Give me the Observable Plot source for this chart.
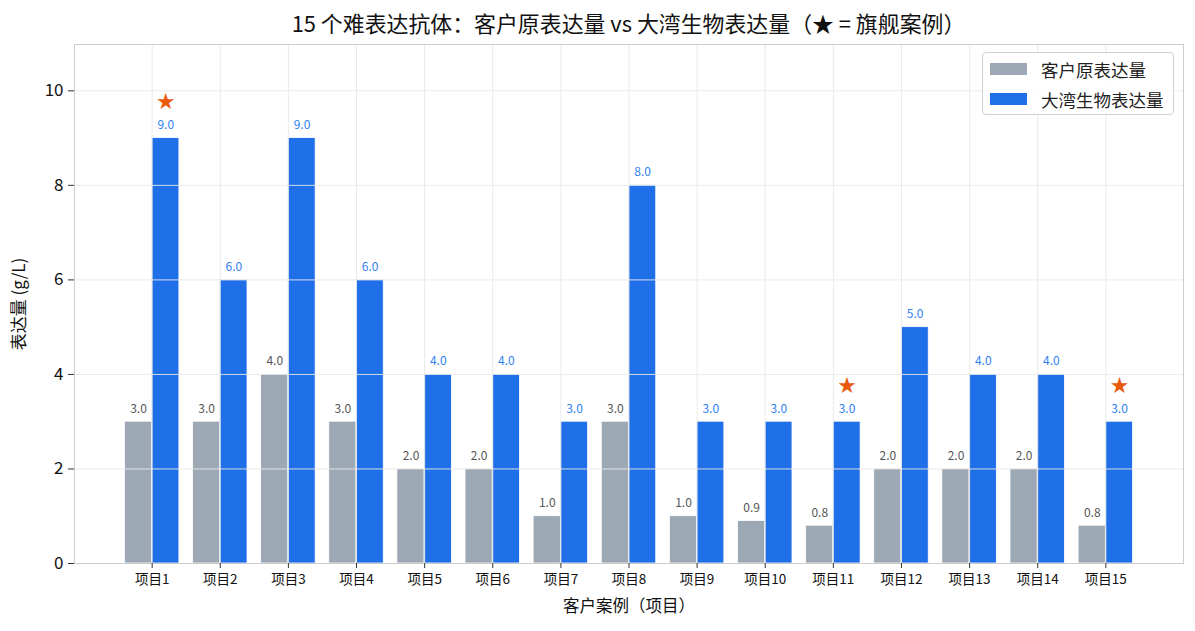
<!DOCTYPE html>
<html>
<head>
<meta charset="utf-8">
<script src="https://cdn.jsdelivr.net/npm/d3@7"></script>
<script src="https://cdn.jsdelivr.net/npm/@observablehq/plot@0.6"></script>
<style>
  body { margin: 0; background: #fff; font-family: "Noto Sans CJK SC", "Noto Sans", sans-serif; }
  #wrap { position: relative; width: 1195px; height: 631px; }
  #title { height: 44px; line-height: 46px; padding-left: 74px; width: 1109px; text-align: center; font-size: 21.9px; color: #111; box-sizing: content-box; white-space: nowrap; }
  #legend { position: absolute; left: 982px; top: 52px; width: 192px; height: 63px; border: 1px solid #d0d0d0; border-radius: 4px; background: rgba(255,255,255,0.85); font-size: 17.5px; color: #222; box-sizing: border-box; }
  .row { position: absolute; left: 7px; height: 24px; display: flex; align-items: center; }
  .sw { width: 37px; height: 12px; margin-right: 14px; }
</style>
</head>
<body>
<div id="wrap">
  <div id="title">15 个难表达抗体：客户原表达量 vs 大湾生物表达量（★ = 旗舰案例）</div>
  <div id="chart"></div>
  <div id="legend">
    <div class="row" style="top:4px"><div class="sw" style="background:#9ca8b4"></div><span>客户原表达量</span></div>
    <div class="row" style="top:34px"><div class="sw" style="background:#1f6fe8"></div><span>大湾生物表达量</span></div>
  </div>
</div>
<script>
const projects = ["项目1","项目2","项目3","项目4","项目5","项目6","项目7","项目8","项目9","项目10","项目11","项目12","项目13","项目14","项目15"];
const customer = [3.0,3.0,4.0,3.0,2.0,2.0,1.0,3.0,1.0,0.9,0.8,2.0,2.0,2.0,0.8];
const dawan = [9.0,6.0,9.0,6.0,4.0,4.0,3.0,8.0,3.0,3.0,3.0,5.0,4.0,4.0,3.0];
const flagship = ["项目1","项目11","项目15"];
const yTicks = [0,2,4,6,8,10];

const rows = projects.map((p, i) => ({p, i, c: customer[i], d: dawan[i], star: flagship.includes(p)}));
const W = 0.4;
const font = "'Noto Sans CJK SC', 'Noto Sans', sans-serif";

const chart = Plot.plot({
  width: 1195,
  height: 587,
  marginTop: 0,
  marginLeft: 74,
  marginRight: 12,
  marginBottom: 68,
  style: {fontFamily: font, background: "#fff", color: "#222"},
  x: {type: "linear", domain: [-1.14, 15.14]},
  y: {domain: [0, 10.98]},
  marks: [
    Plot.rectY(rows, {x1: d => d.i - W, x2: d => d.i, y1: 0, y2: "c", fill: "#9ca8b4", stroke: "#fff", strokeWidth: 0.8}),
    Plot.rectY(rows, {x1: d => d.i, x2: d => d.i + W, y1: 0, y2: "d", fill: "#1f6fe8", stroke: "#fff", strokeWidth: 0.8}),
    Plot.gridY(yTicks, {stroke: "#e8e8e8", strokeOpacity: 0.9, strokeWidth: 1}),
    Plot.gridX(rows.map(d => d.i), {stroke: "#e8e8e8", strokeOpacity: 0.9, strokeWidth: 1}),
    Plot.text(rows, {x: d => d.i - W / 2, y: "c", text: d => d.c.toFixed(1), dy: -13, fill: "#555", fontSize: 12}),
    Plot.text(rows, {x: d => d.i + W / 2, y: "d", text: d => d.d.toFixed(1), dy: -13, fill: "#2f7ff2", fontSize: 12}),
    Plot.text(rows.filter(d => d.star), {x: d => d.i + W / 2, y: d => d.d + 0.75, text: () => "★", fill: "#e8590c", fontSize: 18}),
    Plot.frame({stroke: "#cccccc"}),
    Plot.axisY(yTicks, {tickSize: 6, tickPadding: 5, fontSize: 17, stroke: "#333", fill: "#111", label: "表达量 (g/L)", labelAnchor: "center", labelArrow: "none", labelOffset: 62}),
    Plot.axisX(rows.map(d => d.i), {tickSize: 5, tickPadding: 6, fontSize: 13.5, stroke: "#333", fill: "#111", tickFormat: i => projects[i], label: null}),
    Plot.text(["客户案例（项目）"], {frameAnchor: "bottom", dy: 48, text: d => d, fontSize: 16.5, fill: "#111"})
  ]
});
document.getElementById("chart").appendChild(chart);
</script>
</body>
</html>
